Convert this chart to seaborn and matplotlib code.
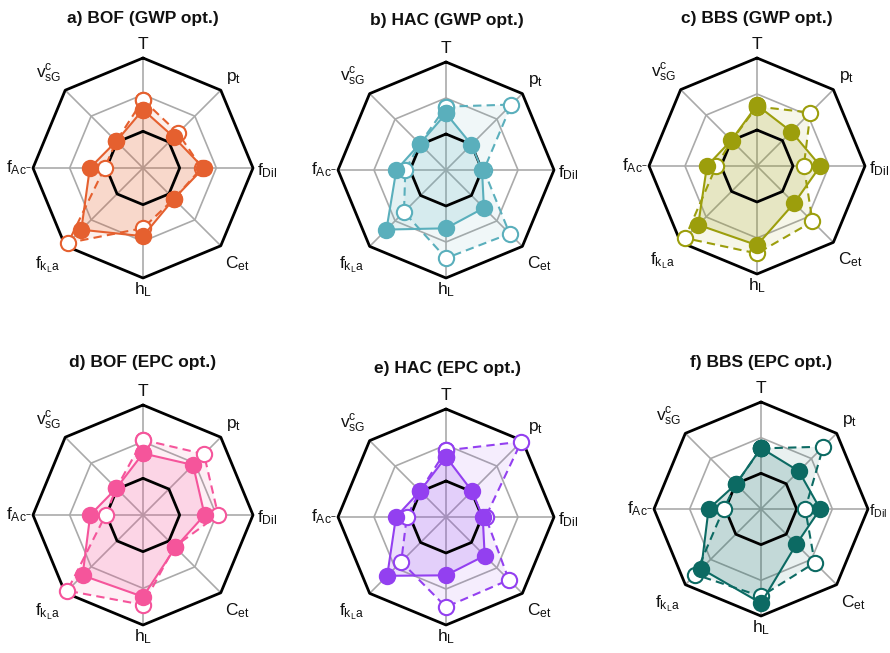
import numpy as np
import matplotlib
matplotlib.use("Agg")
import matplotlib.pyplot as plt
import seaborn as sns

sns.set_theme(style="white")
plt.rcParams['font.family'] = ['Liberation Sans', 'DejaVu Sans']
plt.rcParams['mathtext.default'] = 'regular'

# axis labels, clockwise from top
axis_labels = [r'T', r'$p_t$', r'$f_{Dil}$', r'$C_{et}$', r'$h_L$',
               r'$f_{k_L a}$', r'$f_{Ac^{-}}$', r'$v_{sG}^{c}$']

titles = ['a) BOF (GWP opt.)', 'b) HAC (GWP opt.)', 'c) BBS (GWP opt.)',
          'd) BOF (EPC opt.)', 'e) HAC (EPC opt.)', 'f) BBS (EPC opt.)']

colors = ['#E5602F', '#5AAFBC', '#9C9E0C', '#F5559B', '#9340F0', '#0C6A63']

# solid series (filled markers)
solid_a = [1.59, 1.19, 1.65, 1.19, 1.86, 2.38, 1.45, 1.03]
solid_b = [1.57, 1.00, 1.00, 1.49, 1.62, 2.34, 1.38, 1.03]
solid_c = [1.69, 1.35, 1.76, 1.46, 2.20, 2.31, 1.39, 1.01]
solid_d = [1.68, 1.93, 1.68, 1.25, 2.23, 2.33, 1.44, 1.03]
solid_e = [1.67, 1.02, 1.02, 1.52, 1.62, 2.31, 1.39, 1.02]
solid_f = [1.71, 1.50, 1.66, 1.40, 2.64, 2.37, 1.47, 0.99]

# dashed series (open markers)
dashed_a = [1.86, 1.35, 1.60, 1.19, 1.64, 2.89, 1.05, 1.03]
dashed_b = [1.76, 2.57, 1.05, 2.50, 2.45, 1.65, 1.13, 1.03]
dashed_c = [1.65, 2.10, 1.30, 2.18, 2.43, 2.83, 1.13, 1.00]
dashed_d = [2.05, 2.35, 2.05, 1.22, 2.45, 2.92, 1.02, 1.03]
dashed_e = [1.85, 2.96, 1.10, 2.47, 2.50, 1.76, 1.09, 1.02]
dashed_f = [1.70, 2.47, 1.24, 2.13, 2.45, 2.60, 1.05, 0.99]

solids = [solid_a, solid_b, solid_c, solid_d, solid_e, solid_f]
dashes = [dashed_a, dashed_b, dashed_c, dashed_d, dashed_e, dashed_f]

W, H = 890, 653
# panel centres (px) and outer radius (px)
centers = [(143, 168, 110), (446, 170, 108), (757, 166, 108),
           (143, 515, 110), (446, 517, 108), (761, 509, 107)]
title_pos = [(143, 18), (447, 21), (757, 19), (143, 363), (447, 368), (761, 362)]

n = len(axis_labels)
theta = np.arange(n) * 2 * np.pi / n
theta_c = np.append(theta, theta[0])

label_style = [
    ('center', 'bottom', (0, 4)),
    ('left', 'bottom', (4, 3)),
    ('left', 'center', (3, -2)),
    ('left', 'top', (3, -6)),
    ('center', 'top', (0, -2)),
    ('right', 'top', (-4, -6)),
    ('right', 'center', (-1, 0)),
    ('right', 'bottom', (-3, 4)),
]

fig = plt.figure(figsize=(W / 100, H / 100), dpi=100)

for i in range(6):
    cx, cy, R = centers[i]
    w = 2 * R / W
    h = 2 * R / H
    ax = fig.add_axes([cx / W - w / 2, 1 - cy / H - h / 2, w, h], projection='polar')
    ax.set_theta_zero_location('N')
    ax.set_theta_direction(-1)
    ax.set_ylim(0, 3)
    ax.grid(False)
    ax.spines['polar'].set_visible(False)
    ax.set_xticks([])
    ax.set_yticks([])
    ax.patch.set_alpha(0)

    # grid
    for t in theta:
        ax.plot([t, t], [0, 3], color='#AAAAAA', lw=1.2, zorder=1)
    ax.plot(theta_c, [2] * (n + 1), color='#AAAAAA', lw=1.2, zorder=1)

    col = colors[i]
    s = np.append(solids[i], solids[i][0])
    d = np.append(dashes[i], dashes[i][0])
    ax.fill(theta_c, s, color=col, alpha=0.17, lw=0, zorder=2)
    ax.fill(theta_c, d, color=col, alpha=0.09, lw=0, zorder=2)

    ax.plot(theta_c, [1] * (n + 1), color='black', lw=2.0, zorder=3)
    ax.plot(theta_c, [3] * (n + 1), color='black', lw=2.0, zorder=3, clip_on=False)

    ax.plot(theta_c, d, color=col, lw=1.5, ls=(0, (4, 2.5)), marker='o', ms=11,
            mfc='white', mec=col, mew=1.5, zorder=4, clip_on=False)
    ax.plot(theta_c, s, color=col, lw=1.5, ls='-', marker='o', ms=11,
            mfc=col, mec=col, mew=1.5, zorder=5, clip_on=False)

    for k, lab in enumerate(axis_labels):
        ha, va, off = label_style[k]
        fs = 12.5
        if i == 5 and k == 2:
            # keep the right-edge label inside the canvas
            fs = 11
            off = (1, -2)
        ax.annotate(lab, xy=(theta[k], 3), xytext=off, textcoords='offset points',
                    ha=ha, va=va, fontsize=fs, color='#111111', annotation_clip=False)

    tx, ty = title_pos[i]
    fig.text(tx / W, 1 - ty / H, titles[i], ha='center', va='center',
             fontsize=12.5, fontweight='bold', color='#111111')

fig.savefig('out.png', dpi=100)
